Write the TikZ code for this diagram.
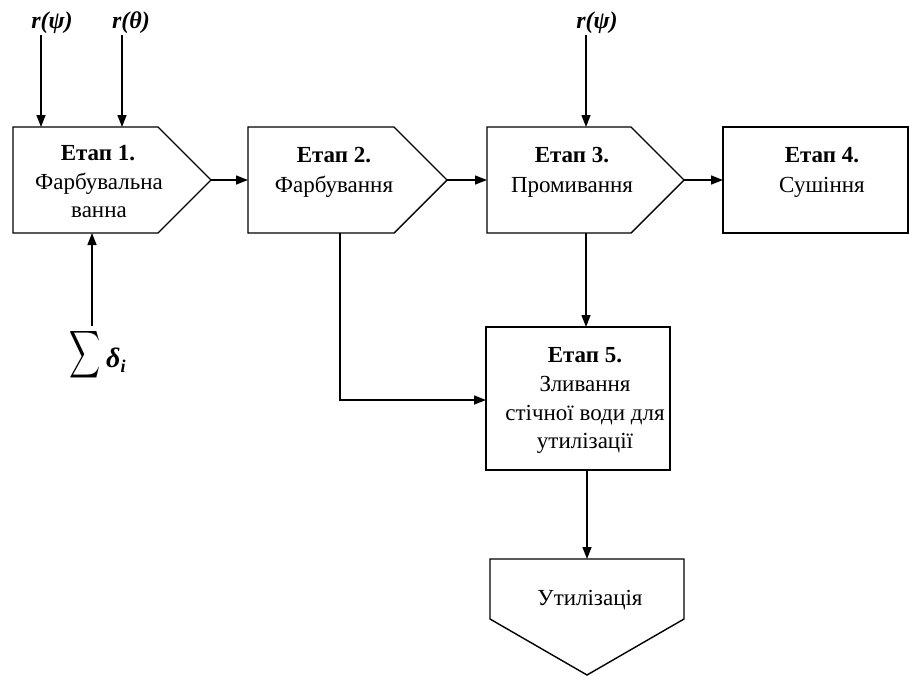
\documentclass[tikz,border=0pt]{standalone}
\usepackage{fontspec}
\usepackage{amsmath,graphicx}
\setmainfont{Liberation Serif}
\usetikzlibrary{arrows.meta}
\tikzset{
  shp/.style={draw, line width=1.4pt, line join=miter},
  conn/.style={line width=1.4pt, -{Triangle[length=12pt,width=9pt]}},
  txt/.style={anchor=base, inner sep=0pt, font=\fontsize{23}{28}\selectfont},
  btxt/.style={txt, font=\fontsize{23}{28}\selectfont\bfseries},
  lbl/.style={anchor=base, inner sep=0pt, font=\fontsize{24}{28}\selectfont\bfseries\itshape},
}
\begin{document}
\begin{tikzpicture}[x=1pt,y=-1pt]
\useasboundingbox (0,0) rectangle (909,675);
% shapes
\draw[shp] (13,127) -- (158,127) -- (211,180) -- (158,233) -- (13,233) -- cycle;
\draw[shp] (248,127) -- (394,127) -- (447,180) -- (394,233) -- (248,233) -- cycle;
\draw[shp] (487,127) -- (631,127) -- (684,180) -- (631,233) -- (487,233) -- cycle;
\draw[shp] (723,127) -- (908,127) -- (908,233) -- (723,233) -- cycle;
\draw[shp] (486,327) rectangle (670,470);
\draw[shp] (490,559) -- (684,559) -- (684,619) -- (587,675) -- (490,619) -- cycle;
% named anchors
\coordinate (b1top1) at (41,127);
\coordinate (b1top2) at (122,127);
\coordinate (b1bot) at (92,233);
\coordinate (b1tip) at (211,180);
\coordinate (b2left) at (248,180);
\coordinate (b2tip) at (447,180);
\coordinate (b2bot) at (340,233);
\coordinate (b3left) at (487,180);
\coordinate (b3tip) at (684,180);
\coordinate (b3top) at (586,127);
\coordinate (b3bot) at (586,233);
\coordinate (b4left) at (723,180);
\coordinate (b5top) at (586,327);
\coordinate (b5left) at (486,400);
\coordinate (b5bot) at (587,470);
\coordinate (utop) at (587,559);
% texts
\node[btxt] (t1a) at (98,160) {Етап 1.};
\node[txt] (t1b) at (99,189) {Фарбувальна};
\node[txt] (t1c) at (99,217) {ванна};
\node[btxt] (t2a) at (334,162) {Етап 2.};
\node[txt] (t2b) at (334,192) {Фарбування};
\node[btxt] (t3a) at (572,162) {Етап 3.};
\node[txt] (t3b) at (572,192) {Промивання};
\node[btxt] (t4a) at (822,162) {Етап 4.};
\node[txt] (t4b) at (822,192) {Сушіння};
\node[btxt] (t5a) at (585,362) {Етап 5.};
\node[txt] (t5b) at (585,391) {Зливання};
\node[txt] (t5c) at (585,420) {стічної води для};
\node[txt] (t5d) at (585,448) {утилізації};
\node[txt] (tu) at (590,605) {Утилізація};
% input labels
\node[lbl] (r1) at (52,28) {r(ψ)};
\node[lbl] (r2) at (131,28) {r(θ)};
\node[lbl] (r3) at (597,28) {r(ψ)};
\node[inner sep=0pt] (sum) at (85,355)
  {\fontsize{20}{24}\selectfont$\vcenter{\hbox{\scalebox{1.04}[1.6]{$\displaystyle\sum$}}}$};
\node[anchor=base west, inner sep=0pt, font=\fontsize{28}{30}\selectfont\bfseries\itshape] (dl) at (106,367)
  {δ\raisebox{-5pt}{\fontsize{18}{18}\selectfont i}};
\coordinate (r1s) at (41,35);
\coordinate (r2s) at (122,35);
\coordinate (r3s) at (586,35);
\coordinate (sds) at (92,326);
% connectors
\draw[conn] (r1s) -- (b1top1);
\draw[conn] (r2s) -- (b1top2);
\draw[conn] (r3s) -- (b3top);
\draw[conn] (sds) -- (b1bot);
\draw[conn] (b1tip) -- (b2left);
\draw[conn] (b2tip) -- (b3left);
\draw[conn] (b3tip) -- (b4left);
\draw[conn] (b3bot) -- (b5top);
\draw[conn] (b2bot) |- (b5left);
\draw[conn] (b5bot) -- (utop);
\end{tikzpicture}
\end{document}
